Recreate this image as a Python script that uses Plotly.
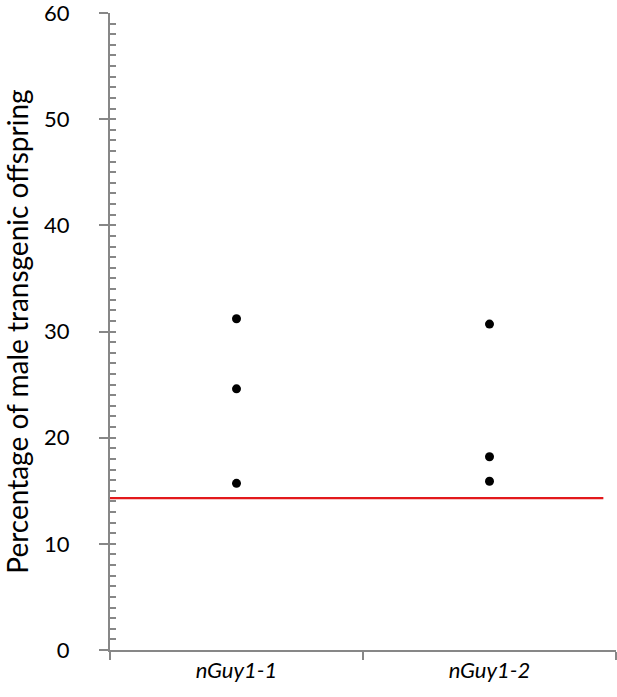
import plotly.graph_objects as go

categories = ["nGuy1-1", "nGuy1-2"]
group1_values = [31.2, 24.6, 15.7]
group2_values = [30.7, 18.2, 15.9]
baseline_value = 14.3
y_ticks = [0, 10, 20, 30, 40, 50, 60]

FONT = "Lato, sans-serif"
AXIS_COLOR = "#878787"

fig = go.Figure()
fig.add_trace(go.Scatter(
    x=[categories[0]] * len(group1_values) + [categories[1]] * len(group2_values),
    y=group1_values + group2_values,
    mode="markers",
    marker=dict(color="black", size=9),
    showlegend=False,
))
fig.add_trace(go.Scatter(x=categories, y=[None, None], yaxis="y2", showlegend=False,
                         hoverinfo="skip"))

fig.add_shape(type="line", xref="x", yref="y", x0=-0.5, x1=1.45,
              y0=baseline_value, y1=baseline_value,
              line=dict(color="#e3191c", width=2.2), layer="above")

fig.update_layout(
    width=617, height=697,
    margin=dict(l=110, r=1, t=13, b=47, autoexpand=False),
    plot_bgcolor="white", paper_bgcolor="white",
    font=dict(family=FONT, color="black"),
    xaxis=dict(
        type="category", categoryorder="array", categoryarray=categories,
        range=[-0.5, 1.5],
        showline=True, linecolor=AXIS_COLOR, linewidth=2,
        ticks="outside", tickson="boundaries", ticklen=8, tickwidth=2, tickcolor=AXIS_COLOR,
        tickfont=dict(family=FONT, size=22, style="italic"),
        showgrid=False, zeroline=False, automargin=False,
    ),
    yaxis=dict(
        range=[0, 60], tickvals=y_ticks,
        showline=True, linecolor=AXIS_COLOR, linewidth=2,
        ticks="outside", ticklen=9, tickwidth=2, tickcolor=AXIS_COLOR,
        ticklabelstandoff=25, ticklabeloverflow="allow",
        tickfont=dict(family=FONT, size=22),
        title=dict(text="Percentage of male transgenic offspring",
                   font=dict(family=FONT, size=28), standoff=8),
        showgrid=False, zeroline=False, automargin=False,
    ),
    yaxis2=dict(
        overlaying="y", side="left", range=[0, 60], dtick=1, tick0=0,
        ticks="inside", ticklen=6, tickwidth=1.5, tickcolor=AXIS_COLOR,
        showticklabels=False, showgrid=False, zeroline=False, showline=False,
    ),
)

fig.write_html("out.html", config={"displayModeBar": False},
               post_script="document.body.style.margin='0';")
